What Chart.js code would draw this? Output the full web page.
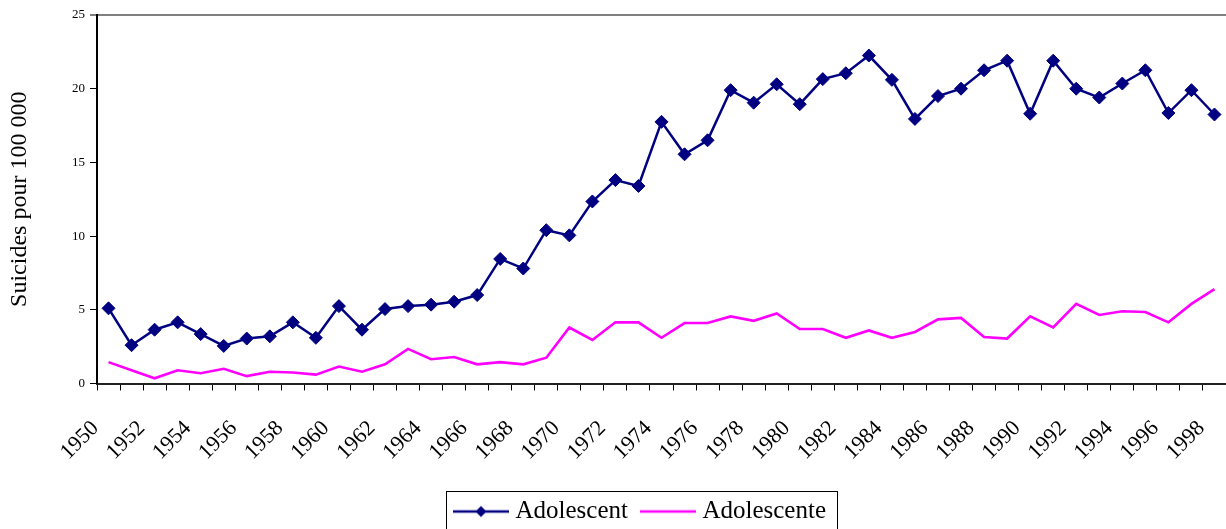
<!DOCTYPE html>
<html>
<head>
<meta charset="utf-8">
<script src="https://cdn.jsdelivr.net/npm/chart.js@4.4.1/dist/chart.umd.min.js"></script>
<style>
  html, body { margin: 0; padding: 0; background: #ffffff; }
  #wrap { width: 1226px; height: 529px; overflow: hidden; }
  canvas { display: block; }
</style>
</head>
<body>
<div id="wrap"><canvas id="chart" width="1226" height="534"></canvas></div>
<script>
// Years on the category axis
const years = [
  '1950','1951','1952','1953','1954','1955','1956','1957','1958','1959',
  '1960','1961','1962','1963','1964','1965','1966','1967','1968','1969',
  '1970','1971','1972','1973','1974','1975','1976','1977','1978','1979',
  '1980','1981','1982','1983','1984','1985','1986','1987','1988','1989',
  '1990','1991','1992','1993','1994','1995','1996','1997','1998'
];

// Suicide rate per 100 000, boys
const adolescent = [
  5.1, 2.6, 3.65, 4.15, 3.35, 2.55, 3.05, 3.2, 4.15, 3.1,
  5.25, 3.65, 5.05, 5.25, 5.35, 5.55, 6.0, 8.45, 7.8, 10.4,
  10.05, 12.35, 13.8, 13.4, 17.75, 15.55, 16.5, 19.9, 19.05, 20.3,
  18.95, 20.65, 21.05, 22.25, 20.6, 17.95, 19.5, 20.0, 21.25, 21.9,
  18.3, 21.9, 20.0, 19.4, 20.35, 21.25, 18.35, 19.9, 18.25
];

// Suicide rate per 100 000, girls
const adolescente = [
  1.45, 0.9, 0.35, 0.9, 0.7, 1.0, 0.5, 0.8, 0.75, 0.6,
  1.15, 0.8, 1.3, 2.35, 1.65, 1.8, 1.3, 1.45, 1.3, 1.75,
  3.8, 2.95, 4.15, 4.15, 3.1, 4.1, 4.1, 4.55, 4.25, 4.75,
  3.7, 3.7, 3.1, 3.6, 3.1, 3.5, 4.35, 4.45, 3.15, 3.05,
  4.55, 3.8, 5.4, 4.65, 4.9, 4.85, 4.15, 5.4, 6.4
];

const seriesNames = ['Adolescent', 'Adolescente'];
const yAxisTitle = 'Suicides pour 100 000';
const yTickValues = [0, 5, 10, 15, 20, 25];

const SERIF = "'Liberation Serif', 'Times New Roman', serif";
const NAVY = '#000080';
const MAGENTA = '#FF00FF';

// Small legend samples: a line with a diamond, and a plain line
function makeSample(color, lineWidth, diamond) {
  const c = document.createElement('canvas');
  c.width = 56; c.height = 14;
  const g = c.getContext('2d');
  g.strokeStyle = color;
  g.lineWidth = lineWidth;
  g.beginPath(); g.moveTo(0, 7); g.lineTo(56, 7); g.stroke();
  if (diamond) {
    g.fillStyle = color;
    g.beginPath();
    g.moveTo(28, 7 - 5.5); g.lineTo(28 + 5.5, 7); g.lineTo(28, 7 + 5.5); g.lineTo(28 - 5.5, 7);
    g.closePath(); g.fill();
  }
  return c;
}
const legendSamples = [makeSample(NAVY, 2.4, true), makeSample(MAGENTA, 2.5, false)];

// Legend frame and horizontal placement of the legend row
const legendFrame = {
  id: 'legendFrame',
  afterLayout(chart) {
    chart.legend.left += 29.5;
    chart.legend.right += 29.5;
  },
  afterDraw(chart) {
    const boxes = chart.legend.legendHitBoxes;
    if (!boxes || !boxes.length) return;
    const first = boxes[0], last = boxes[boxes.length - 1];
    const left = Math.round(first.left - 13) + 0.5;
    const right = Math.round(last.left + last.width + 11) + 0.5;
    const top = Math.round(first.top - 8) + 0.5;
    const bottom = chart.height + 4;
    const ctx = chart.ctx;
    ctx.save();
    ctx.strokeStyle = '#000000';
    ctx.lineWidth = 1;
    ctx.strokeRect(left, top, right - left, bottom - top);
    ctx.restore();
  }
};

new Chart(document.getElementById('chart'), {
  type: 'line',
  data: {
    labels: years,
    datasets: [
      {
        label: seriesNames[0],
        data: adolescent,
        borderColor: NAVY,
        backgroundColor: NAVY,
        borderWidth: 2.5,
        pointStyle: 'rectRot',
        pointRadius: 6.5,
        pointBorderWidth: 1,
        pointBackgroundColor: NAVY,
        pointBorderColor: NAVY,
        tension: 0
      },
      {
        label: seriesNames[1],
        data: adolescente,
        borderColor: MAGENTA,
        backgroundColor: MAGENTA,
        borderWidth: 2.6,
        pointRadius: 0,
        pointHoverRadius: 0,
        tension: 0
      }
    ]
  },
  options: {
    responsive: false,
    animation: false,
    devicePixelRatio: 1,
    events: [],
    layout: { autoPadding: false, padding: { top: 15, left: 0, right: 0, bottom: 0 } },
    scales: {
      x: {
        type: 'category',
        offset: true,
        grid: {
          offset: true,
          drawOnChartArea: false,
          drawTicks: true,
          tickLength: 7,
          color: '#000000',
          lineWidth: 1
        },
        border: { display: true, color: '#222222', width: 2 },
        ticks: {
          autoSkip: false,
          minRotation: 45,
          maxRotation: 45,
          padding: 25,
          labelOffset: -13,
          color: '#000000',
          font: { family: SERIF, size: 22 },
          callback: (value, index) => (index % 2 === 0 ? years[index] : '')
        },
        afterFit(scale) {
          scale.height = 97.5;
          scale.paddingLeft = 0;
          scale.paddingRight = 0;
        }
      },
      y: {
        min: yTickValues[0],
        max: yTickValues[yTickValues.length - 1],
        afterBuildTicks(scale) {
          scale.ticks = yTickValues.map(v => ({ value: v }));
        },
        grid: {
          drawOnChartArea: true,
          drawTicks: true,
          tickLength: 7,
          tickColor: '#000000',
          tickWidth: 1,
          color: ctx => (ctx.tick && ctx.tick.value === 25 ? '#808080' : 'rgba(0,0,0,0)'),
          lineWidth: ctx => (ctx.tick && ctx.tick.value === 25 ? 2 : 1)
        },
        border: { display: true, color: '#000000', width: 2 },
        ticks: {
          padding: 5,
          color: '#000000',
          font: { family: SERIF, size: 13 }
        },
        title: {
          display: true,
          text: yAxisTitle,
          color: '#000000',
          font: { family: SERIF, size: 24 },
          padding: { top: 5, bottom: 0 }
        },
        afterFit(scale) {
          scale.width = 97;
        }
      }
    },
    plugins: {
      tooltip: { enabled: false },
      legend: {
        display: true,
        position: 'bottom',
        labels: {
          usePointStyle: true,
          pointStyleWidth: 44,
          padding: 18,
          color: '#000000',
          font: { family: SERIF, size: 25 },
          generateLabels(chart) {
            const items = Chart.defaults.plugins.legend.labels.generateLabels(chart);
            items.forEach((item, i) => { item.pointStyle = legendSamples[i]; });
            return items;
          }
        }
      }
    }
  },
  plugins: [legendFrame]
});
</script>
</body>
</html>
